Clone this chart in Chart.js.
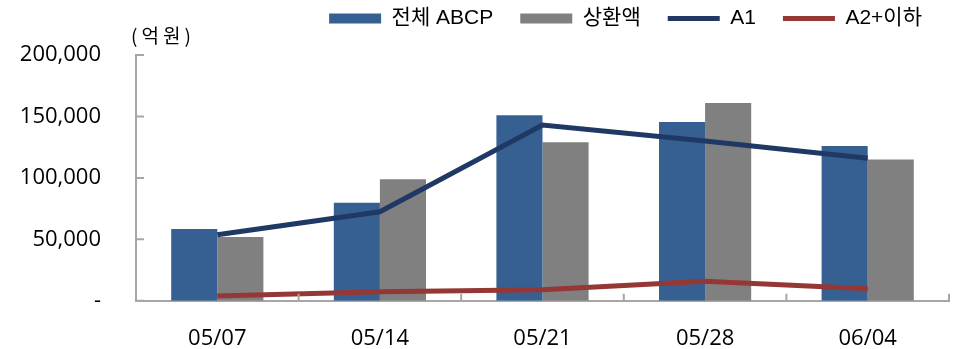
<!DOCTYPE html>
<html>
<head>
<meta charset="utf-8">
<script src="https://cdn.jsdelivr.net/npm/chart.js@4"></script>
<style>
  body { margin: 0; background: #fff; }
  #wrap { position: relative; width: 962px; height: 349px; }
  #unit { position: absolute; left: 131px; top: 21px; font: 19px "Noto Sans CJK KR", sans-serif; letter-spacing: 4px; color: #000; }
</style>
</head>
<body>
<div id="wrap">
  <canvas id="Chart" width="962" height="349"></canvas>
  <div id="unit">(억원)</div>
</div>
<script>
const dates = ["05/07", "05/14", "05/21", "05/28", "06/04"];
const totalAbcp = [58500, 79700, 151000, 145500, 126000];
const repaid = [52000, 99000, 129000, 161000, 115000];
const a1 = [53700, 72400, 143000, 130000, 116000];
const a2Below = [4000, 7300, 9000, 16000, 9800];
const yTicks = [0, 50000, 100000, 150000, 200000];

// inward tick marks like the original
const innerTicks = {
  id: "innerTicks",
  afterDraw(chart) {
    const ctx = chart.ctx;
    const x = chart.scales.x;
    const y = chart.scales.y;
    ctx.save();
    ctx.strokeStyle = "#a6a6a6";
    ctx.lineWidth = 2;
    ctx.beginPath();
    yTicks.forEach((v) => {
      let py = y.getPixelForValue(v);
      ctx.moveTo(x.left, py);
      ctx.lineTo(x.left + 8, py);
    });
    let step = x.width / dates.length;
    for (let i = 1; i <= dates.length; i++) {
      let px = x.left + i * step;
      ctx.moveTo(px, y.bottom);
      ctx.lineTo(px, y.bottom - 7);
    }
    ctx.stroke();
    ctx.restore();
  },
};

// fixed legend height so the plot starts where the original does
const legendHeight = {
  id: "legendHeight",
  beforeInit(chart) {
    const fit = chart.legend.fit;
    chart.legend.fit = function () {
      fit.bind(chart.legend)();
      this.height = 74;
    };
  },
};

let ctx = document.getElementById("Chart").getContext("2d");
let myChart = new Chart(ctx, {
  type: "bar",
  data: {
    labels: dates,
    datasets: [
      {
        label: "전체 ABCP",
        data: totalAbcp,
        backgroundColor: "#376092",
        pointStyle: "rect",
        order: 2,
      },
      {
        label: "상환액",
        data: repaid,
        backgroundColor: "#808080",
        pointStyle: "rect",
        order: 2,
      },
      {
        type: "line",
        label: "A1",
        data: a1,
        borderColor: "#1f3864",
        backgroundColor: "#1f3864",
        borderWidth: 5,
        pointRadius: 0,
        pointStyle: "line",
        order: 1,
      },
      {
        type: "line",
        label: "A2+이하",
        data: a2Below,
        borderColor: "#953735",
        backgroundColor: "#953735",
        borderWidth: 5,
        pointRadius: 0,
        pointStyle: "line",
        order: 1,
      },
    ],
  },
  options: {
    responsive: false,
    animation: false,
    layout: { padding: { left: 0, right: 13, top: -19, bottom: 0 } },
    datasets: {
      bar: { categoryPercentage: 0.567, barPercentage: 1 },
    },
    plugins: {
      tooltip: { enabled: false },
      legend: {
        position: "top",
        align: "end",
        labels: {
          usePointStyle: true,
          pointStyleWidth: 52,
          boxHeight: 10,
          padding: 27,
          color: "#000",
          font: { family: '"Liberation Sans", "Noto Sans CJK KR", sans-serif', size: 21 },
          sort: (a, b) => a.datasetIndex - b.datasetIndex,
        },
      },
    },
    scales: {
      x: {
        grid: { display: false, drawTicks: false },
        border: { display: true, color: "#a6a6a6", width: 2 },
        afterFit: (axis) => {
          axis.height = 48;
        },
        ticks: {
          color: "#000",
          padding: 25,
          font: { family: '"Open Sans", sans-serif', size: 22 },
        },
      },
      y: {
        min: 0,
        max: 200000,
        afterBuildTicks: (axis) => {
          axis.ticks = yTicks.map((v) => ({ value: v }));
        },
        afterFit: (axis) => {
          axis.width = 136;
        },
        grid: { display: false, drawTicks: false },
        border: { display: true, color: "#a6a6a6", width: 2 },
        ticks: {
          color: "#000",
          padding: 35,
          font: { family: '"Open Sans", sans-serif', size: 22 },
          callback: (v) => (v === 0 ? "-" : v.toLocaleString("en-US")),
        },
      },
    },
  },
  plugins: [innerTicks, legendHeight],
});
</script>
</body>
</html>
